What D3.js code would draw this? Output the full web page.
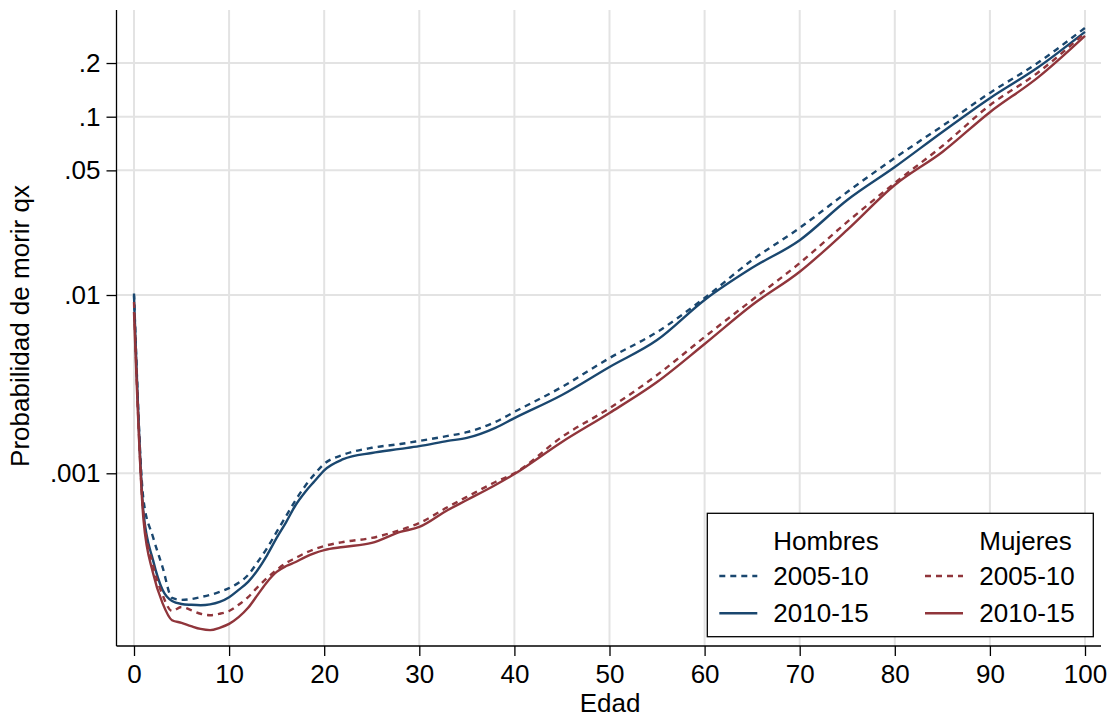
<!DOCTYPE html>
<html>
<head>
<meta charset="utf-8">
<script src="https://cdn.jsdelivr.net/npm/d3@7"></script>
<style>
	body { margin: 0; background: #fff; }
	text { font-family: "Liberation Sans", Arial, Helvetica, sans-serif; fill: #000; }
</style>
</head>
<body>
<div id="c-svg-01"></div>
<script>

//data
const ages = [0,1,2,3,4,5,6,7,8,9,10,11,12,13,14,15,16,17,18,19,20,22,25,28,30,33,35,38,40,45,50,55,60,65,70,75,80,85,90,95,100];

const hombres0510 = [0.0102,0.000708,0.000439,0.000298,0.000200,0.000195,0.000197,0.000202,0.000208,0.000216,0.000227,0.000243,0.000269,0.000318,0.000381,0.000469,0.000576,0.000708,0.000849,0.000991,0.00113,0.00127,0.00139,0.00146,0.00152,0.00162,0.00170,0.00194,0.00221,0.00305,0.00443,0.00620,0.00962,0.0157,0.0238,0.0378,0.0587,0.0887,0.136,0.200,0.315];

const hombres1015 = [0.0099,0.000599,0.000326,0.000222,0.000192,0.000185,0.000183,0.000182,0.000184,0.000190,0.000202,0.000222,0.000246,0.000287,0.000348,0.000434,0.000533,0.000664,0.000786,0.000905,0.00104,0.00120,0.00130,0.00137,0.00142,0.00152,0.00158,0.00180,0.00204,0.00275,0.00395,0.00559,0.00938,0.0142,0.0203,0.0341,0.0522,0.0821,0.127,0.188,0.299];

const mujeres0510 = [0.00914,0.000584,0.000306,0.000208,0.000169,0.000178,0.000171,0.000163,0.000160,0.000163,0.000169,0.000183,0.000202,0.000230,0.000259,0.000287,0.000314,0.000335,0.000357,0.000376,0.000391,0.000412,0.000434,0.000481,0.000526,0.000647,0.000737,0.000894,0.00100,0.00160,0.00232,0.00356,0.00581,0.00938,0.0151,0.0257,0.0425,0.0685,0.116,0.176,0.295];

const mujeres1015 = [0.00803,0.000547,0.000276,0.000187,0.000150,0.000145,0.000139,0.000134,0.000132,0.000136,0.000143,0.000156,0.000176,0.000208,0.000246,0.000280,0.000302,0.000318,0.000339,0.000357,0.000371,0.000386,0.000407,0.000469,0.000500,0.000623,0.000708,0.000860,0.000991,0.00150,0.00218,0.00325,0.00531,0.00879,0.0135,0.0232,0.0414,0.0634,0.106,0.165,0.284];

const xTicks = [0,10,20,30,40,50,60,70,80,90,100];
const yTicks = [0.001, 0.01, 0.05, 0.1, 0.2];
const yTickLabels = [".001", ".01", ".05", ".1", ".2"];

const legendTitles = ["Hombres", "Mujeres"];
const legendPeriods = ["2005-10", "2010-15"];


function graph1(){

	//sizing
	const width = 1113;
	const height = 719;
	const fontSize = 26;

	const left = 116.5, right = 1101, top = 10, bottom = 646;

	const blue = "#1a476f";
	const red = "#90353b";

	let svg = d3.select("#c-svg-01")
		.append("svg")
		.attr("width", width)
		.attr("height", height);

	//scales
	let x = d3.scaleLinear()
		.domain([0, 100])
		.range([134, 1085]);

	let y = d3.scaleLog()
		.domain([0.001, 0.01])
		.range([473.3, 295]);

	//grid
	svg.append("g")
		.selectAll("line")
		.data(xTicks)
		.enter().append("line")
		.attr("x1", (d)=>x(d))
		.attr("x2", (d)=>x(d))
		.attr("y1", top)
		.attr("y2", bottom)
		.attr("stroke", "#e3e3e3")
		.attr("stroke-width", 2);

	svg.append("g")
		.selectAll("line")
		.data(yTicks)
		.enter().append("line")
		.attr("x1", left)
		.attr("x2", right)
		.attr("y1", (d)=>y(d))
		.attr("y2", (d)=>y(d))
		.attr("stroke", "#e3e3e3")
		.attr("stroke-width", 2);

	//axes
	let yAxis = svg.append("g")
		.attr("transform", "translate(" + left + ",0)")
		.call(d3.axisLeft(y)
			.tickValues(yTicks)
			.tickFormat((d, i)=>yTickLabels[i])
			.tickSize(10)
			.tickPadding(6));

	let xAxis = svg.append("g")
		.attr("transform", "translate(0," + bottom + ")")
		.call(d3.axisBottom(x)
			.tickValues(xTicks)
			.tickSize(10)
			.tickPadding(9));

	[xAxis, yAxis].forEach((a)=>{
		a.select(".domain").remove();
		a.selectAll("line").attr("stroke", "#000").attr("stroke-width", 1.3);
		a.selectAll("text")
			.attr("font-size", fontSize)
			.attr("font-family", "Liberation Sans, Arial, sans-serif")
			.attr("fill", "#000");
	});

	svg.append("line")
		.attr("x1", left).attr("x2", left)
		.attr("y1", top).attr("y2", bottom)
		.attr("stroke", "#000").attr("stroke-width", 1.3);

	svg.append("line")
		.attr("x1", left).attr("x2", right)
		.attr("y1", bottom).attr("y2", bottom)
		.attr("stroke", "#000").attr("stroke-width", 1.3);

	//axis titles
	svg.append("text")
		.attr("x", 610)
		.attr("y", 712)
		.attr("text-anchor", "middle")
		.attr("font-size", fontSize)
		.text("Edad");

	svg.append("text")
		.attr("transform", "translate(29,326) rotate(-90)")
		.attr("text-anchor", "middle")
		.attr("font-size", fontSize)
		.text("Probabilidad de morir qx");

	//lines
	const series = [
		{values: hombres0510, color: blue, dash: "6,5"},
		{values: hombres1015, color: blue, dash: null},
		{values: mujeres0510, color: red, dash: "6,5"},
		{values: mujeres1015, color: red, dash: null}
	];

	let line = d3.line()
		.x((d)=>x(d[0]))
		.y((d)=>y(d[1]))
		.curve(d3.curveMonotoneX);

	svg.append("g")
		.selectAll("path")
		.data(series)
		.enter().append("path")
		.attr("d", (s)=>line(ages.map((a, i)=>[a, s.values[i]])))
		.attr("fill", "none")
		.attr("stroke", (s)=>s.color)
		.attr("stroke-width", 2.4)
		.attr("stroke-dasharray", (s)=>s.dash);

	//legend
	let legend = svg.append("g");

	legend.append("rect")
		.attr("x", 707.3)
		.attr("y", 513.3)
		.attr("width", 386)
		.attr("height", 123.4)
		.attr("fill", "#fff")
		.attr("stroke", "#000")
		.attr("stroke-width", 1.3);

	const colX = [719.3, 925];
	const textX = [773.3, 979.3];
	const rowY = [576, 613.3];
	const colors = [blue, red];

	legendTitles.forEach((t, c)=>{
		legend.append("text")
			.attr("x", textX[c])
			.attr("y", 549.5)
			.attr("font-size", fontSize)
			.text(t);

		legendPeriods.forEach((p, r)=>{
			legend.append("line")
				.attr("x1", colX[c])
				.attr("x2", colX[c] + 38)
				.attr("y1", rowY[r])
				.attr("y2", rowY[r])
				.attr("stroke", colors[c])
				.attr("stroke-width", 2.4)
				.attr("stroke-dasharray", r == 0 ? "6,5" : null);

			legend.append("text")
				.attr("x", textX[c])
				.attr("y", rowY[r] + 9)
				.attr("font-size", fontSize)
				.text(p);
		});
	});

} //function graph1

graph1();
</script>
</body>
</html>
